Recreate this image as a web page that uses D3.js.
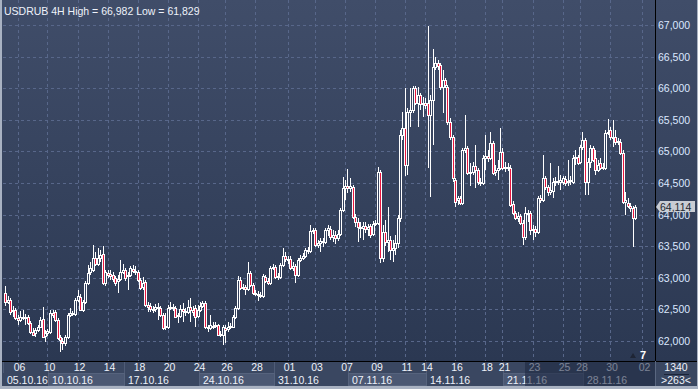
<!DOCTYPE html>
<html>
<head>
<meta charset="utf-8">
<script src="https://cdn.jsdelivr.net/npm/d3@7"></script>
<style>
  body { margin: 0; background: #2e3b56; }
  svg { display: block; }
  text { font-family: "Liberation Sans", Arial, sans-serif; font-size: 10.5px; }
</style>
</head>
<body>
<svg id="CHART" width="698" height="389"></svg>
<script>
// USDRUB 4H candles (05.10.16 - 02.12.16)
var openP = [
  62.76, 62.62, 62.65, 62.47, 62.49, 62.36, 62.33, 62.38, 62.36, 62.38,
  62.28, 62.14, 62.13, 62.17, 62.22, 62.35, 62.08, 62.13, 62.14, 62.44,
  62.46, 62.33, 62.06, 62.00, 61.97, 62.06, 62.41, 62.44, 62.43, 62.65,
  62.70, 62.49, 62.62, 62.92, 63.09, 63.12, 63.31, 63.22, 63.31, 63.38,
  62.92, 63.08, 63.06, 63.04, 63.00, 62.95, 62.98, 63.09, 63.12, 63.03,
  63.04, 63.14, 63.11, 63.09, 62.97, 62.85, 62.93, 62.57, 62.55, 62.51,
  62.51, 62.54, 62.52, 62.41, 62.22, 62.22, 62.52, 62.54, 62.52, 62.40,
  62.40, 62.51, 62.47, 62.46, 62.54, 62.49, 62.52, 62.40, 62.49, 62.55,
  62.60, 62.22, 62.21, 62.24, 62.24, 62.25, 62.09, 62.09, 62.21, 62.19,
  62.22, 62.22, 62.38, 62.52, 62.97, 62.84, 62.85, 62.82, 63.08, 62.89,
  62.76, 62.74, 62.73, 62.71, 63.01, 62.95, 62.92, 63.16, 63.17, 63.03,
  63.01, 63.20, 63.34, 63.30, 63.30, 63.16, 63.19, 63.04, 63.28, 63.31,
  63.34, 63.44, 63.42, 63.74, 63.76, 63.52, 63.55, 63.58, 63.57, 63.76,
  63.77, 63.65, 63.68, 63.63, 63.69, 64.07, 64.42, 64.45, 64.42, 64.44,
  63.96, 63.88, 63.80, 63.79, 63.82, 63.77, 63.82, 63.69, 63.85, 63.87,
  64.67, 63.31, 63.72, 63.57, 63.60, 63.44, 63.47, 63.55, 63.95, 65.26,
  65.37, 64.78, 65.62, 65.66, 66.00, 65.77, 65.89, 65.75, 65.77, 65.77,
  65.58, 65.81, 66.34, 66.40, 66.37, 66.02, 66.13, 66.02, 65.47, 65.23,
  64.55, 64.23, 64.26, 64.18, 65.02, 65.05, 64.66, 64.67, 64.77, 64.71,
  64.52, 64.50, 64.90, 64.93, 64.90, 65.13, 64.67, 64.71, 64.74, 64.99,
  64.74, 64.75, 64.74, 64.17, 64.03, 63.95, 63.98, 63.87, 63.65, 64.03,
  64.03, 63.76, 63.77, 63.72, 64.26, 64.23, 64.58, 64.44, 64.36, 64.37,
  64.52, 64.53, 64.52, 64.52, 64.56, 64.52, 64.53, 64.52, 64.90, 64.91,
  64.83, 65.07, 65.18, 64.52, 64.83, 65.05, 64.90, 64.71, 64.82, 64.74,
  64.74, 65.29, 65.34, 65.23, 65.23, 65.15, 65.15, 64.97, 64.20, 64.18,
  64.14, 64.10, 63.95
];
var highP = [
  62.87, 62.71, 62.68, 62.55, 62.52, 62.41, 62.47, 62.49, 62.43, 62.41,
  62.32, 62.21, 62.21, 62.25, 62.38, 62.54, 62.17, 62.19, 62.49, 62.49,
  62.49, 62.36, 62.09, 62.04, 62.09, 62.44, 62.52, 62.47, 62.68, 62.81,
  62.74, 62.65, 62.95, 63.20, 63.25, 63.52, 63.41, 63.47, 63.44, 63.50,
  63.12, 63.12, 63.12, 63.09, 63.03, 63.04, 63.28, 63.22, 63.16, 63.09,
  63.19, 63.20, 63.19, 63.12, 63.00, 63.01, 62.97, 62.62, 62.60, 62.55,
  62.59, 62.60, 62.55, 62.44, 62.44, 62.57, 62.62, 62.59, 62.55, 62.44,
  62.57, 62.60, 62.52, 62.65, 62.68, 62.55, 62.57, 62.57, 62.62, 62.63,
  62.63, 62.25, 62.41, 62.30, 62.30, 62.27, 62.16, 62.25, 62.25, 62.30,
  62.28, 62.41, 62.55, 63.03, 63.01, 62.90, 62.89, 63.25, 63.11, 62.92,
  62.81, 62.79, 62.78, 63.06, 63.04, 63.00, 63.19, 63.22, 63.20, 63.08,
  63.23, 63.47, 63.41, 63.34, 63.34, 63.25, 63.22, 63.31, 63.36, 63.39,
  63.47, 63.49, 63.84, 63.79, 63.79, 63.60, 63.63, 63.63, 63.79, 63.84,
  63.82, 63.76, 63.74, 63.76, 64.10, 64.59, 64.55, 64.72, 64.58, 64.47,
  64.01, 63.95, 63.88, 63.88, 63.88, 63.85, 63.85, 63.90, 63.91, 64.75,
  64.71, 63.84, 63.91, 64.12, 63.66, 63.60, 63.68, 63.99, 65.34, 65.62,
  66.00, 65.69, 66.00, 66.03, 66.03, 66.02, 65.92, 65.86, 65.84, 66.982,
  65.89, 66.62, 66.49, 66.45, 66.40, 66.29, 66.16, 66.05, 65.53, 65.26,
  64.58, 64.29, 64.29, 65.05, 65.58, 65.09, 64.82, 64.83, 65.10, 64.74,
  64.58, 64.94, 65.26, 65.02, 65.31, 65.16, 64.78, 64.86, 65.37, 65.05,
  64.83, 64.82, 64.78, 64.22, 64.06, 64.04, 64.01, 63.91, 64.12, 64.07,
  64.06, 63.84, 63.82, 64.29, 64.31, 64.94, 64.61, 64.47, 64.82, 64.58,
  64.59, 64.77, 64.63, 64.61, 64.61, 64.86, 64.61, 64.94, 65.02, 64.94,
  65.10, 65.31, 65.21, 64.90, 65.10, 65.09, 65.02, 64.86, 64.90, 64.82,
  65.34, 65.51, 65.39, 65.50, 65.34, 65.21, 65.20, 65.02, 64.36, 64.26,
  64.18, 64.14, 64.15
];
var lowP = [
  62.55, 62.59, 62.41, 62.38, 62.33, 62.25, 62.30, 62.33, 62.25, 62.25,
  62.11, 62.08, 62.06, 62.14, 62.21, 62.04, 61.98, 62.08, 62.11, 62.36,
  62.30, 62.02, 61.829, 61.85, 61.92, 62.03, 62.38, 62.40, 62.40, 62.62,
  62.47, 62.46, 62.59, 62.89, 63.04, 63.09, 63.19, 63.19, 63.25, 62.89,
  62.87, 63.00, 62.97, 62.93, 62.87, 62.76, 62.95, 63.06, 62.95, 62.81,
  63.01, 63.08, 63.04, 62.93, 62.81, 62.81, 62.54, 62.46, 62.46, 62.44,
  62.46, 62.33, 62.38, 62.17, 62.17, 62.19, 62.49, 62.47, 62.36, 62.28,
  62.36, 62.30, 62.40, 62.43, 62.30, 62.40, 62.22, 62.36, 62.46, 62.52,
  62.19, 62.14, 62.17, 62.19, 62.21, 62.08, 62.06, 61.94, 61.97, 62.14,
  62.19, 62.21, 62.35, 62.49, 62.81, 62.81, 62.73, 62.79, 62.85, 62.73,
  62.71, 62.63, 62.68, 62.68, 62.92, 62.89, 62.89, 63.12, 62.98, 62.97,
  62.98, 63.17, 63.25, 63.22, 63.12, 63.11, 62.92, 63.01, 63.25, 63.28,
  63.31, 63.38, 63.39, 63.69, 63.49, 63.47, 63.41, 63.49, 63.53, 63.66,
  63.60, 63.57, 63.53, 63.58, 63.66, 64.04, 64.23, 64.34, 64.36, 63.93,
  63.80, 63.57, 63.63, 63.60, 63.71, 63.66, 63.63, 63.66, 63.82, 63.84,
  63.23, 63.25, 63.50, 63.41, 63.28, 63.25, 63.36, 63.47, 63.88, 65.18,
  64.61, 64.63, 65.39, 65.61, 65.73, 65.39, 65.66, 65.54, 65.67, 64.74,
  64.28, 65.10, 66.29, 66.29, 65.97, 65.61, 66.00, 65.42, 65.18, 64.52,
  64.12, 64.15, 64.15, 64.15, 64.97, 64.63, 64.45, 64.63, 64.42, 64.47,
  64.45, 64.47, 64.71, 64.83, 64.86, 64.63, 64.61, 64.55, 64.71, 64.71,
  64.67, 64.69, 64.12, 63.99, 63.91, 63.88, 63.84, 63.52, 63.60, 63.88,
  63.68, 63.60, 63.65, 63.69, 64.18, 64.20, 64.39, 64.29, 64.31, 64.26,
  64.45, 64.47, 64.39, 64.47, 64.45, 64.45, 64.47, 64.48, 64.78, 64.78,
  64.80, 65.02, 64.31, 64.31, 64.74, 64.83, 64.63, 64.67, 64.71, 64.71,
  64.71, 65.26, 65.18, 65.07, 65.10, 65.10, 64.94, 64.17, 63.99, 64.10,
  64.04, 63.49, 63.91
];
var closeP = [
  62.62, 62.65, 62.46, 62.49, 62.36, 62.33, 62.38, 62.36, 62.38, 62.28,
  62.14, 62.09, 62.17, 62.22, 62.33, 62.06, 62.13, 62.16, 62.44, 62.41,
  62.33, 62.04, 62.02, 61.97, 62.06, 62.41, 62.44, 62.43, 62.65, 62.71,
  62.49, 62.62, 62.92, 63.08, 63.16, 63.31, 63.22, 63.31, 63.36, 62.92,
  63.09, 63.04, 63.03, 62.98, 62.92, 62.98, 63.09, 63.12, 63.00, 63.04,
  63.16, 63.11, 63.09, 62.97, 62.84, 62.92, 62.57, 62.54, 62.51, 62.49,
  62.54, 62.52, 62.41, 62.21, 62.24, 62.52, 62.54, 62.52, 62.38, 62.41,
  62.51, 62.47, 62.46, 62.54, 62.49, 62.46, 62.38, 62.49, 62.55, 62.60,
  62.22, 62.21, 62.25, 62.22, 62.25, 62.09, 62.11, 62.22, 62.17, 62.22,
  62.24, 62.38, 62.52, 62.97, 62.84, 62.85, 62.82, 63.08, 62.89, 62.76,
  62.74, 62.73, 62.71, 63.03, 62.95, 62.92, 63.16, 63.17, 63.01, 63.01,
  63.20, 63.34, 63.30, 63.28, 63.16, 63.19, 63.04, 63.28, 63.31, 63.34,
  63.44, 63.42, 63.74, 63.76, 63.52, 63.55, 63.58, 63.57, 63.76, 63.79,
  63.65, 63.68, 63.63, 63.69, 64.07, 64.42, 64.45, 64.42, 64.45, 63.96,
  63.88, 63.80, 63.79, 63.82, 63.77, 63.80, 63.68, 63.85, 63.87, 64.67,
  63.31, 63.72, 63.57, 63.60, 63.44, 63.47, 63.55, 63.95, 65.26, 65.37,
  64.78, 65.62, 65.66, 66.00, 65.77, 65.89, 65.75, 65.77, 65.73, 65.58,
  65.81, 66.34, 66.40, 66.35, 66.02, 66.13, 66.05, 65.47, 65.23, 64.58,
  64.20, 64.26, 64.18, 65.02, 65.05, 64.66, 64.67, 64.77, 64.71, 64.52,
  64.50, 64.90, 64.93, 64.90, 65.13, 64.66, 64.71, 64.74, 64.99, 64.74,
  64.75, 64.74, 64.15, 64.03, 63.95, 63.98, 63.87, 63.65, 64.03, 64.01,
  63.76, 63.77, 63.72, 64.26, 64.23, 64.58, 64.44, 64.36, 64.39, 64.52,
  64.53, 64.52, 64.55, 64.58, 64.50, 64.53, 64.55, 64.90, 64.91, 64.82,
  65.07, 65.18, 64.52, 64.83, 65.05, 64.86, 64.71, 64.78, 64.74, 64.75,
  65.29, 65.31, 65.23, 65.21, 65.15, 65.16, 64.97, 64.20, 64.23, 64.14,
  64.10, 63.95, 64.114
];

// price axis ticks
var priceTicks = [62, 62.5, 63, 63.5, 64, 64.5, 65, 65.5, 66, 66.5, 67];

// time axis: day labels and the bar they sit on
var dayLabels = ["06", "10", "12", "14", "18", "20", "24", "26", "28", "01", "03", "07",
                 "09", "11", "14", "16", "18", "21", "23", "25", "28", "30", "02"];
var dayBars = [5, 17, 29, 41, 53, 65, 77, 88, 100, 113, 124, 136,
               148, 160, 168, 180, 192, 199, 211, 223, 230, 242, 255];

// week boxes
var weekLabels = ["05.10.16", "10.10.16", "17.10.16", "24.10.16", "31.10.16",
                  "07.11.16", "14.11.16", "21.11.16", "28.11.16"];
var weekBars = [0, 17, 47, 77, 107, 137, 168, 199, 231];

var titleText = "USDRUB 4H High = 66,982 Low = 61,829";
var barCountText = "1340";
var barShownText = ">263<";
var tradesText = "7";

let d3 = window.d3;

var width = 698,
  height = 389;

const PLOT = {
  LEFT: 3,
  RIGHT: 655,
  TOP: 0,
  BOTTOM: 361,
};

let fmt = (v) => v.toFixed(3).replace(".", ",");

let svg = d3.select("#CHART");

// gradients
let defs = svg.append("defs");
let bg = defs.append("linearGradient").attr("id", "bgGrad")
  .attr("x1", 0).attr("y1", 0).attr("x2", 0).attr("y2", 1);
bg.append("stop").attr("offset", "0%").attr("stop-color", "#404d69");
bg.append("stop").attr("offset", "100%").attr("stop-color", "#2b3852");

// background
svg.append("rect").attr("width", width).attr("height", height).attr("fill", "#a9b2c2");
svg.append("rect")
  .attr("x", 2).attr("y", 0)
  .attr("width", width - 3).attr("height", PLOT.BOTTOM)
  .attr("fill", "url(#bgGrad)");
// time axis strip
svg.append("rect")
  .attr("x", 2).attr("y", PLOT.BOTTOM)
  .attr("width", width - 3).attr("height", 25)
  .attr("fill", "#3a4761");

// scales
let n = closeP.length;
let xScale = d3.scaleLinear()
  .domain([0, n - 1])
  .range([5, 635]);

let yScale = d3.scaleLinear()
  .domain([62, 67])
  .range([341, 25]);

// grid
let grid = svg.append("g").attr("class", "grid")
  .attr("stroke", "#58678a").attr("stroke-dasharray", "3,3")
  .attr("shape-rendering", "crispEdges");

grid.selectAll(".hgrid")
  .data(priceTicks)
  .enter()
  .append("line")
  .attr("x1", PLOT.LEFT).attr("x2", PLOT.RIGHT)
  .attr("y1", (d) => Math.round(yScale(d)) + 0.5)
  .attr("y2", (d) => Math.round(yScale(d)) + 0.5);

grid.selectAll(".vgrid")
  .data(dayBars)
  .enter()
  .append("line")
  .attr("y1", PLOT.TOP).attr("y2", PLOT.BOTTOM)
  .attr("x1", (d) => Math.round(xScale(d)) + 0.5)
  .attr("x2", (d) => Math.round(xScale(d)) + 0.5);

// candles
let candles = svg.append("g").attr("class", "candles").attr("shape-rendering", "crispEdges");
let idx = d3.range(n);

candles.selectAll(".wick")
  .data(idx)
  .enter()
  .append("line")
  .attr("x1", (i) => Math.round(xScale(i)) + 0.5)
  .attr("x2", (i) => Math.round(xScale(i)) + 0.5)
  .attr("y1", (i) => yScale(highP[i]))
  .attr("y2", (i) => yScale(lowP[i]))
  .attr("stroke", "#ffffff");

candles.selectAll(".body")
  .data(idx)
  .enter()
  .append("rect")
  .attr("x", (i) => Math.round(xScale(i)) - 0.5)
  .attr("y", (i) => Math.round(yScale(Math.max(openP[i], closeP[i]))) + 0.5)
  .attr("width", 2)
  .attr("height", (i) => Math.max(1, Math.round(yScale(Math.min(openP[i], closeP[i]))) - Math.round(yScale(Math.max(openP[i], closeP[i])))))
  .attr("fill", (i) => closeP[i] < openP[i] ? "#e8173f" : "#34415d")
  .attr("stroke", "#ffffff");

// title
svg.append("text")
  .attr("x", 4).attr("y", 15)
  .attr("fill", "#eef2fa")
  .text(titleText);

// price axis
svg.append("line")
  .attr("x1", PLOT.RIGHT + 0.5).attr("x2", PLOT.RIGHT + 0.5)
  .attr("y1", 0).attr("y2", PLOT.BOTTOM)
  .attr("stroke", "#000000");

svg.selectAll(".ptick")
  .data(priceTicks)
  .enter()
  .append("text")
  .attr("x", PLOT.RIGHT + 3)
  .attr("y", (d) => yScale(d) + 4)
  .attr("fill", "#dce8ff")
  .text((d) => fmt(d));

// last price marker (drawn over the 64,000 label as in the terminal)
let lastY = Math.round(yScale(closeP[n - 1]));
svg.append("path")
  .attr("d", `M${PLOT.RIGHT + 1},${lastY} L${PLOT.RIGHT + 5},${lastY - 6} L${width - 3},${lastY - 6} L${width - 3},${lastY + 5} L${PLOT.RIGHT + 5},${lastY + 5} Z`)
  .attr("fill", "#c9cdd4");
svg.append("text")
  .attr("x", PLOT.RIGHT + 5).attr("y", lastY + 4)
  .attr("fill", "#222832")
  .text(fmt(closeP[n - 1]));

// time axis
svg.append("line")
  .attr("x1", 2).attr("x2", width - 1)
  .attr("y1", PLOT.BOTTOM + 0.5).attr("y2", PLOT.BOTTOM + 0.5)
  .attr("stroke", "#000000");

let weeks = svg.append("g").attr("class", "weeks");
weekBars.forEach(function (b, k) {
  let x0 = k == 0 ? PLOT.LEFT : Math.round(xScale(b)) + 1;
  let x1 = k == weekBars.length - 1 ? PLOT.RIGHT : Math.round(xScale(weekBars[k + 1])) + 1;
  if (k % 2 == 1) {
    weeks.append("rect")
      .attr("x", x0 + 0.5).attr("y", 373.5)
      .attr("width", x1 - x0).attr("height", 12)
      .attr("fill", "#4b5873")
      .attr("stroke", "#56637d");
  }
  weeks.append("line")
    .attr("x1", x0 + 0.5).attr("x2", x0 + 0.5)
    .attr("y1", PLOT.BOTTOM + 1).attr("y2", 373)
    .attr("stroke", "#4f5c77");
  weeks.append("text")
    .attr("x", x0 + 4).attr("y", 384)
    .attr("fill", "#eef2fa")
    .text(weekLabels[k]);
});

svg.selectAll(".dtick")
  .data(dayBars)
  .enter()
  .append("text")
  .attr("x", (d) => xScale(d) + 2)
  .attr("y", 371)
  .attr("text-anchor", "middle")
  .attr("fill", "#eef2fa")
  .text((d, k) => dayLabels[k]);

// dimmed part of the time axis on the right
svg.append("rect")
  .attr("x", Math.round(xScale(208))).attr("y", PLOT.BOTTOM + 1)
  .attr("width", PLOT.RIGHT - Math.round(xScale(208))).attr("height", 24)
  .attr("fill", "#1c2740").attr("opacity", 0.55);

// bottom right counter box
svg.append("line")
  .attr("x1", PLOT.RIGHT + 0.5).attr("x2", PLOT.RIGHT + 0.5)
  .attr("y1", PLOT.BOTTOM).attr("y2", 386)
  .attr("stroke", "#5a6780");
svg.append("text")
  .attr("x", 676).attr("y", 371).attr("text-anchor", "middle")
  .attr("fill", "#eef2fa").text(barCountText);
svg.append("line")
  .attr("x1", 664).attr("x2", 689)
  .attr("y1", 374.5).attr("y2", 374.5)
  .attr("stroke", "#1c2438");
svg.append("text")
  .attr("x", 676).attr("y", 384).attr("text-anchor", "middle")
  .attr("fill", "#eef2fa").text(barShownText);

// trades marker
svg.append("path")
  .attr("d", "M630,358 L633,353 L636,358 Z")
  .attr("fill", "#1e2535");
svg.append("text")
  .attr("x", 640).attr("y", 359)
  .attr("fill", "#ffffff").attr("font-weight", "bold")
  .style("font-size", "11px")
  .text(tradesText);
</script>
</body>
</html>
